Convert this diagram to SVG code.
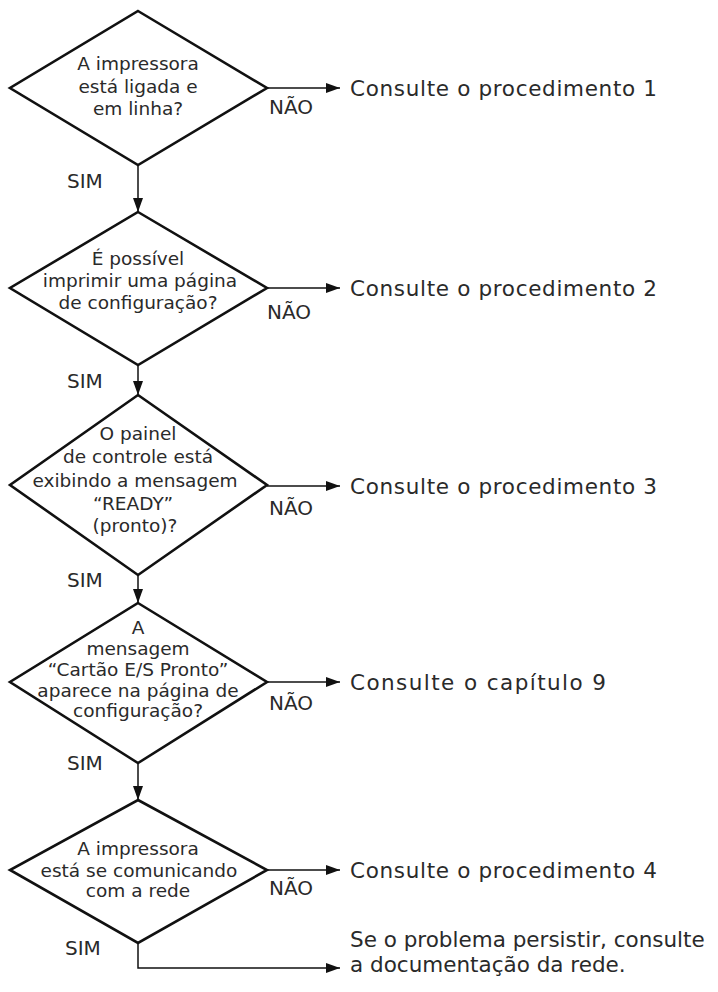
<svg xmlns="http://www.w3.org/2000/svg" width="718" height="992" viewBox="0 0 718 992">
<style>
.d{fill:#fff;stroke:#111;stroke-width:2.6;stroke-linejoin:miter}
.c{fill:none;stroke:#111;stroke-width:1.5}
.t{font-family:"DejaVu Sans",sans-serif;font-size:18.5px;fill:#2a2a2a;text-anchor:middle}
.l{font-family:"DejaVu Sans",sans-serif;font-size:21.5px;fill:#2a2a2a}
.y{font-family:"DejaVu Sans",sans-serif;font-size:20px;fill:#2a2a2a}
</style>
<defs>
<marker id="ah" viewBox="0 0 14 10" refX="14" refY="5" markerWidth="14" markerHeight="10" markerUnits="userSpaceOnUse" orient="auto">
<path d="M0,0 L14,5 L0,10 Z" fill="#111"/>
</marker>
</defs>
<rect width="718" height="992" fill="#fff"/>
<g id="connectors">
<line class="c" x1="138" y1="165" x2="138" y2="212" marker-end="url(#ah)"/>
<line class="c" x1="138" y1="365" x2="138" y2="395" marker-end="url(#ah)"/>
<line class="c" x1="138" y1="575" x2="138" y2="603" marker-end="url(#ah)"/>
<line class="c" x1="138" y1="763" x2="138" y2="800" marker-end="url(#ah)"/>
<polyline class="c" points="138,943 138,968 340,968" marker-end="url(#ah)"/>
<line class="c" x1="267" y1="88" x2="340" y2="88" marker-end="url(#ah)"/>
<line class="c" x1="267" y1="288" x2="340" y2="288" marker-end="url(#ah)"/>
<line class="c" x1="267" y1="486" x2="340" y2="486" marker-end="url(#ah)"/>
<line class="c" x1="267" y1="682" x2="340" y2="682" marker-end="url(#ah)"/>
<line class="c" x1="267" y1="870" x2="340" y2="870" marker-end="url(#ah)"/>
<text class="y" x="67" y="188">SIM</text>
<text class="y" x="67" y="388">SIM</text>
<text class="y" x="67" y="587">SIM</text>
<text class="y" x="67" y="770">SIM</text>
<text class="y" x="65" y="955">SIM</text>
<text class="y" x="269" y="114">NÃO</text>
<text class="y" x="267" y="319">NÃO</text>
<text class="y" x="269" y="515">NÃO</text>
<text class="y" x="269" y="710">NÃO</text>
<text class="y" x="269" y="895">NÃO</text>
</g>
<g id="d1">
<polygon class="d" points="138,11 267,88 138,165 10,88"/>
<text class="t" x="138" y="70">A impressora</text>
<text class="t" x="138" y="93">está ligada e</text>
<text class="t" x="138" y="115">em linha?</text>
</g>
<g id="d2">
<polygon class="d" points="138,212 267,288 138,365 10,288"/>
<text class="t" x="138" y="265">É possível</text>
<text class="t" x="140" y="287">imprimir uma página</text>
<text class="t" x="138" y="309">de configuração?</text>
</g>
<g id="d3">
<polygon class="d" points="138,395 267,485 138,575 10,485"/>
<text class="t" x="138" y="440">O painel</text>
<text class="t" x="138" y="463">de controle está</text>
<text class="t" x="135" y="487">exibindo a mensagem</text>
<text class="t" x="133" y="510">“READY”</text>
<text class="t" x="135" y="532">(pronto)?</text>
</g>
<g id="d4">
<polygon class="d" points="138,603 267,682 138,763 10,682"/>
<text class="t" x="138" y="634">A</text>
<text class="t" x="138" y="655">mensagem</text>
<text class="t" x="138" y="676">“Cartão E/S Pronto”</text>
<text class="t" x="138" y="697">aparece na página de</text>
<text class="t" x="138" y="717">configuração?</text>
</g>
<g id="d5">
<polygon class="d" points="138,800 267,870 138,943 10,870"/>
<text class="t" x="138" y="855">A impressora</text>
<text class="t" x="139" y="877">está se comunicando</text>
<text class="t" x="138" y="897">com a rede</text>
</g>
<g id="r1"><text class="l" x="350" y="96" textLength="307" lengthAdjust="spacing">Consulte o procedimento 1</text></g>
<g id="r2"><text class="l" x="350" y="296" textLength="307" lengthAdjust="spacing">Consulte o procedimento 2</text></g>
<g id="r3"><text class="l" x="350" y="494" textLength="307" lengthAdjust="spacing">Consulte o procedimento 3</text></g>
<g id="r4"><text class="l" x="350" y="690" textLength="256" lengthAdjust="spacing">Consulte o capítulo 9</text></g>
<g id="r5"><text class="l" x="350" y="878" textLength="307" lengthAdjust="spacing">Consulte o procedimento 4</text></g>
<g id="r6">
<text class="l" x="350" y="947">Se o problema persistir, consulte</text>
<text class="l" x="350" y="972">a documentação da rede.</text>
</g>
</svg>
